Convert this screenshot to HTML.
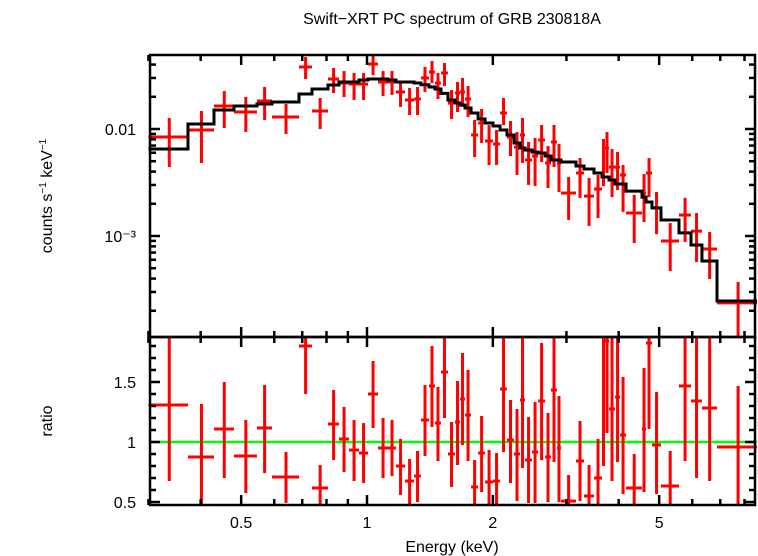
<!DOCTYPE html>
<html><head><meta charset="utf-8"><style>
html,body{margin:0;padding:0;background:#fff;}
svg{display:block;font-family:"Liberation Sans",sans-serif;}
</style></head><body>
<svg id="c" width="758" height="556" viewBox="0 0 758 556">
<text x="452" y="24" text-anchor="middle" font-size="16">Swift−XRT PC spectrum of GRB 230818A</text>
<text transform="translate(52,196) rotate(-90)" text-anchor="middle" font-size="16">counts s<tspan dy="-6" font-size="10">−1</tspan><tspan dy="6"> keV</tspan><tspan dy="-6" font-size="10">−1</tspan></text>
<text transform="translate(52,421) rotate(-90)" text-anchor="middle" font-size="16">ratio</text>
<text x="452" y="552" text-anchor="middle" font-size="16">Energy (keV)</text>
<g id="g"></g>
</svg>
<script>
const edges=[0.30,0.373,0.4305,0.4806,0.5454,0.5925,0.6876,0.7385,0.8067,0.857,0.9055,0.9569,1.0055,1.0625,1.1225,1.173,1.233,1.296,1.346,1.407,1.454,1.503,1.562,1.624,1.669,1.716,1.774,1.844,1.916,2.002,2.081,2.162,2.247,2.323,2.388,2.482,2.566,2.667,2.755,2.848,2.911,3.162,3.305,3.492,3.649,3.71,3.793,3.921,4.03,4.166,4.549,4.651,4.806,5.05,5.577,5.958,6.329,6.876,8.57];
// flux in units of 1e-3 counts/s/keV
const flux=[8.42,9.79,16.41,14.42,18.27,12.95,37.96,14.72,29.33,26.9,26.3,26.3,40.5,27.5,27.5,22.2,18.66,19.07,30.0,34.1,26.9,33.4,17.5,21.7,22.2,19.07,8.79,11.38,7.73,7.24,14.11,8.42,6.79,8.79,5.13,5.59,7.90,4.81,7.56,4.81,2.52,3.88,2.36,2.75,5.47,6.64,4.41,4.41,3.72,1.64,2.52,3.88,1.83,0.898,1.57,1.11,0.756,0.237];
const fluxHi=[12.67,14.72,22.65,19.91,24.7,17.13,47.1,19.49,37.2,34.8,33.4,33.4,49.2,34.8,34.8,27.5,24.2,24.7,38.0,43.2,33.4,41.4,23.1,27.5,30.0,25.2,12.14,15.38,10.9,9.79,19.49,11.88,9.37,12.67,7.56,8.24,10.9,6.94,10.9,7.24,3.56,5.36,3.48,3.72,8.06,9.37,6.50,6.10,4.61,2.42,3.80,5.36,2.58,1.32,2.27,1.64,1.09,0.372];
const fluxLo=[4.41,4.81,10.2,9.37,12.14,8.98,29.33,10.0,21.7,19.91,18.66,18.66,31.97,20.3,20.8,16.06,13.5,13.5,22.2,26.9,19.07,25.2,12.4,14.42,16.06,12.95,5.47,7.40,4.61,4.61,10.9,5.59,3.72,4.81,3.0,2.93,4.91,2.81,4.41,2.58,1.41,2.27,1.24,1.47,2.93,3.88,2.31,2.69,1.68,0.86,1.35,2.31,1.04,0.471,0.879,0.571,0.396,0.05];
const model=[6.50,11.13,15.05,16.41,17.13,17.88,21.24,23.65,25.77,27.5,27.5,28.7,29.33,29.33,28.7,27.5,27.5,26.9,25.9,24.7,23.65,21.5,18.66,17.5,16.76,15.72,14.11,12.4,11.38,10.67,9.79,8.79,7.40,6.64,6.36,6.10,5.97,5.59,5.13,5.13,4.91,4.51,4.23,3.88,3.56,3.56,3.34,3.06,3.06,2.63,2.31,2.08,1.83,1.41,1.07,0.824,0.584,0.247];
const ratio=[1.308,0.875,1.108,0.883,1.117,0.708,1.80,0.617,1.15,1.025,0.933,0.908,1.40,0.95,0.95,0.80,0.675,0.717,1.183,1.467,1.158,1.583,0.90,1.167,1.358,1.225,0.625,0.908,0.667,0.675,1.442,1.017,0.90,1.35,0.85,0.917,1.342,0.875,1.433,0.95,0.508,0.842,0.55,0.70,1.483,1.842,1.275,1.375,1.058,0.617,1.108,1.825,0.975,0.633,1.467,1.342,1.283,0.958];
const ratioHi=[2.0,1.317,1.5,1.183,1.475,0.917,2.0,0.808,1.433,1.292,1.183,1.158,1.675,1.20,1.183,1.025,0.858,0.925,1.475,1.80,1.458,2.0,1.167,1.508,1.742,1.60,0.85,1.217,0.933,0.908,2.0,1.35,1.275,2.0,1.208,1.333,1.825,1.242,2.0,1.383,0.725,1.175,0.808,1.025,2.0,2.0,1.867,2.0,1.542,0.90,1.617,2.0,1.417,0.925,2.0,2.0,2.0,1.467];
const ratioLo=[0.675,0.4,0.70,0.575,0.742,0.492,1.40,0.4,0.85,0.75,0.675,0.658,1.117,0.70,0.717,0.558,0.483,0.50,0.883,1.125,0.842,1.20,0.625,0.808,0.975,0.842,0.4,0.583,0.4,0.4,0.917,0.658,0.508,0.783,0.492,0.492,0.85,0.50,0.833,0.50,0.4,0.508,0.4,0.4,0.80,1.075,0.675,0.833,0.567,0.4,0.583,1.108,0.567,0.4,0.842,0.70,0.675,0.4];
const xMajor=[0.5,1,2,5];
const xMinor=[0.3,0.4,0.6,0.7,0.8,0.9,3,4,6,7,8];
const yMajorLabels=["0.01","10⁻³"];
const yMajor=[0.01,0.001];
const rMajor=[0.5,1,1.5];
const rMajorLabels=["0.5","1","1.5"];

const L=150,R=755,T=55,M=337,B=505;
const X=e=>367+418*Math.log10(e);
const Y=v=>129-107*(Math.log10(v)+2);
const YR=r=>442-120*(r-1);
const clipT=y=>Math.max(T,Math.min(M,y));
const clipB=y=>Math.max(M,Math.min(B,y));
const NS="http://www.w3.org/2000/svg";
const g=document.getElementById('g');
function el(tag,attrs,parent){const e=document.createElementNS(NS,tag);for(const k in attrs)e.setAttribute(k,attrs[k]);(parent||g).appendChild(e);return e;}
function line(x1,y1,x2,y2,c,w,p){return el('line',{x1,y1,x2,y2,stroke:c,'stroke-width':w},p);}

// data crosses top
const gd=el('g',{});


for(let i=0;i<flux.length;i++){
  const lo=edges[i],hi=edges[i+1],c=(lo+hi)/2;
  const v=flux[i]*1e-3;
  const gi=el('g',{},gd);
  
  
  line(X(lo),clipT(Y(v)),X(hi),clipT(Y(v)),'#f00',3,gi);
  line(X(c),clipT(Y(fluxHi[i]*1e-3)),X(c),clipT(Y(fluxLo[i]*1e-3)),'#f00',3,gi);
}
// model step
let d='';
for(let i=0;i<model.length;i++){
  const y=Y(model[i]*1e-3);
  d+=(i===0?'M':'L')+X(edges[i])+','+y+'L'+X(edges[i+1])+','+y;
}
const mp=el('path',{d,fill:'none',stroke:'#000','stroke-width':3});



// ratio
const gl=line(L,YR(1),R+2,YR(1),'#0f0',2.5);


const gr=el('g',{});


for(let i=0;i<ratio.length;i++){
  const lo=edges[i],hi=edges[i+1],c=(lo+hi)/2;
  const gi=el('g',{},gr);
  
  
  line(X(lo),clipB(YR(ratio[i])),X(hi),clipB(YR(ratio[i])),'#f00',3,gi);
  line(X(c),clipB(YR(ratioHi[i])),X(c),clipB(YR(ratioLo[i])),'#f00',3,gi);
}

// frames
const f1=el('rect',{x:L,y:T,width:R-L,height:M-T,fill:'none',stroke:'#000','stroke-width':2.5});


const f2=el('rect',{x:L,y:M,width:R-L,height:B-M,fill:'none',stroke:'#000','stroke-width':2.5});



// x ticks
[[T,M],[M,B]].forEach(([a,b])=>{
  xMajor.forEach(e=>{line(X(e),a,X(e),a+10,'#000',2.5);line(X(e),b,X(e),b-10,'#000',2.5);});
  xMinor.forEach(e=>{line(X(e),a,X(e),a+6,'#000',2.5);line(X(e),b,X(e),b-6,'#000',2.5);});
});
xMajor.forEach(e=>{
  const t=el('text',{x:X(e),y:528,'text-anchor':'middle','font-size':16});
  t.textContent=String(e);
  
  
});
// top y ticks
for(let dec=-4;dec<=-2;dec++){
  for(let m=1;m<=9;m++){
    const v=m*Math.pow(10,dec);const y=Y(v);
    if(y<T||y>M)continue;
    const len=m===1?10:6;
    line(L,y,L+len,y,'#000',2.5);line(R,y,R-len,y,'#000',2.5);
  }
}
yMajor.forEach((v,i)=>{
  const t=el('text',{x:136,y:Y(v)+6,'text-anchor':'end','font-size':16});
  t.textContent=yMajorLabels[i];
  
  
});
// ratio ticks
for(let k=5;k<=18;k++){
  const r=k/10,y=YR(r);if(y<M||y>B)continue;
  const len=(k%5===0)?10:6;
  line(L,y,L+len,y,'#000',2.5);line(R,y,R-len,y,'#000',2.5);
}
rMajor.forEach((v,i)=>{
  const t=el('text',{x:136,y:YR(v)+6,'text-anchor':'end','font-size':16});
  t.textContent=rMajorLabels[i];
  
  
});
</script>
</body></html>
